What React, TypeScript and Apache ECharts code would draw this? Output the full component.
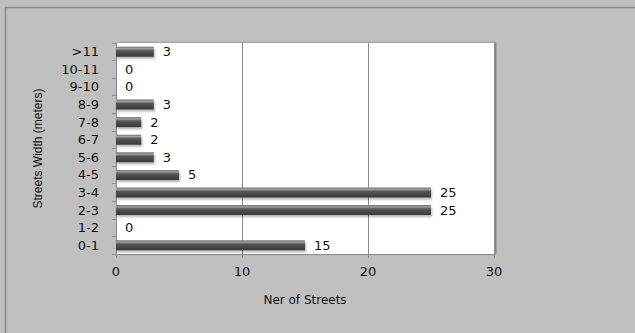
import React, { useEffect, useRef } from "react";
import * as echarts from "echarts";

const categories = ["0-1", "1-2", "2-3", "3-4", "4-5", "5-6", "6-7", "7-8", "8-9", "9-10", "10-11", ">11"];
const streetCounts = [15, 0, 25, 25, 5, 3, 2, 2, 3, 0, 0, 3];
const xTicks = [0, 10, 20, 30];

export default function App() {
  const ref = useRef<HTMLDivElement>(null);
  useEffect(() => {
    if (!ref.current) return;
    const chart = echarts.init(ref.current, null, { renderer: "svg" });
    const font = "DejaVu Sans";
    chart.setOption({
      animation: false,
      backgroundColor: "#c0c0c0",
      textStyle: { fontFamily: font },
      graphic: [
        {
          type: "rect",
          shape: { x: 5.5, y: 7.5, width: 700, height: 400 },
          style: { fill: "none", stroke: "#8a8a8a", lineWidth: 1.5 },
          silent: true,
        },
      ],
      grid: {
        left: 116,
        top: 43,
        right: 141,
        bottom: 79,
        show: true,
        backgroundColor: "#ffffff",
        borderWidth: 0,
        shadowColor: "rgba(0,0,0,0.45)",
        shadowBlur: 2,
        shadowOffsetX: 2,
        shadowOffsetY: 0,
      },
      xAxis: {
        type: "value",
        min: xTicks[0],
        max: xTicks[xTicks.length - 1],
        interval: 10,
        name: "Ner of Streets",
        nameLocation: "middle",
        nameGap: 40,
        nameTextStyle: { fontSize: 12, color: "#111", fontFamily: font },
        axisLine: { show: true, lineStyle: { color: "#8c8c8c", width: 1 } },
        axisTick: { show: true, length: 4, lineStyle: { color: "#8c8c8c" } },
        axisLabel: { fontSize: 13, color: "#111", margin: 11, fontFamily: font },
        splitLine: { show: true, lineStyle: { color: "#8c8c8c", width: 1 } },
      },
      yAxis: {
        type: "category",
        data: categories,
        name: "Streets Width (meters)",
        nameLocation: "middle",
        nameGap: 72,
        nameRotate: 90,
        nameTextStyle: { fontSize: 12, color: "#111", fontFamily: "Liberation Sans" },
        axisLine: { show: true, lineStyle: { color: "#8c8c8c", width: 1 } },
        axisTick: { show: true, length: 4, lineStyle: { color: "#8c8c8c" } },
        axisLabel: { fontSize: 13, color: "#111", margin: 17, fontFamily: font },
        splitLine: { show: false },
      },
      series: [
        {
          type: "bar",
          data: streetCounts,
          barWidth: 10,
          itemStyle: {
            color: new echarts.graphic.LinearGradient(0, 0, 0, 1, [
              { offset: 0, color: "#707070" },
              { offset: 0.18, color: "#a0a0a0" },
              { offset: 0.4, color: "#555555" },
              { offset: 1, color: "#383838" },
            ]),
            shadowColor: "rgba(0,0,0,0.3)",
            shadowBlur: 2,
            shadowOffsetY: 2,
            shadowOffsetX: 1,
          },
          label: {
            show: true,
            position: "right",
            distance: 9,
            fontSize: 13,
            color: "#111",
            fontFamily: font,
          },
        },
      ],
    });
    return () => chart.dispose();
  }, []);
  return <div ref={ref} style={{ position: "absolute", left: 0, top: 0, width: 635, height: 333 }} />;
}
